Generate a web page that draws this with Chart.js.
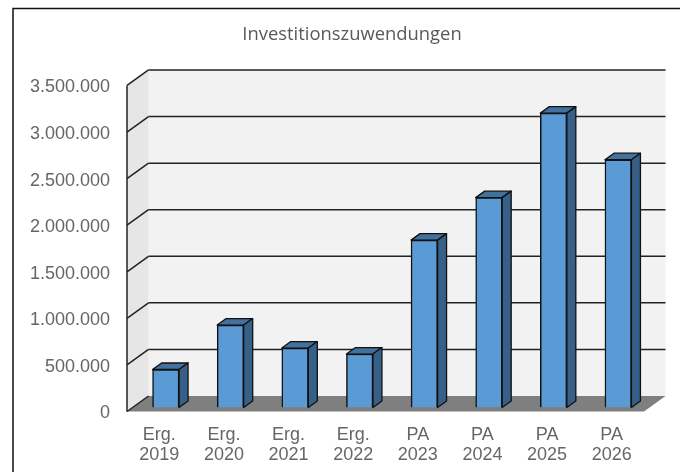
<!DOCTYPE html>
<html><head><meta charset="utf-8">
<style>html,body{margin:0;padding:0;background:#fff}#w{position:absolute;left:0;top:0;width:680px;height:472px}</style>
<script src="https://cdn.jsdelivr.net/npm/chart.js@4"></script></head>
<body><div id="w"><canvas id="c" width="680" height="472"></canvas></div>
<script>
const categories=[["Erg.","2019"],["Erg.","2020"],["Erg.","2021"],["Erg.","2022"],["PA","2023"],["PA","2024"],["PA","2025"],["PA","2026"]];
const values=[408000,885000,638000,574000,1797000,2253000,3160000,2660000];
const titleText="Investitionszuwendungen";
const DX=21.5,DY=-15.5,BX=6.5,BY=-4,SX=9,SY=-6.5;
function poly(ctx,pts,fill,stroke,lw){ctx.beginPath();pts.forEach((p,i)=>i?ctx.lineTo(p[0],p[1]):ctx.moveTo(p[0],p[1]));ctx.closePath();
 if(fill){ctx.fillStyle=fill;ctx.fill();} if(stroke){ctx.strokeStyle=stroke;ctx.lineWidth=lw;ctx.lineJoin='round';ctx.stroke();}}
function line(ctx,a,b,c,w){ctx.beginPath();ctx.moveTo(a[0],a[1]);ctx.lineTo(b[0],b[1]);ctx.strokeStyle=c;ctx.lineWidth=w;ctx.stroke();}
const frame={id:'frame',afterLayout(ch){ch.titleBlock.left=60;},beforeDraw(ch){const c=ch.ctx;c.save();c.fillStyle='#fff';c.fillRect(0,0,680,472);
 c.strokeStyle='#111';c.lineWidth=1.5;c.beginPath();c.moveTo(13,472);c.lineTo(13,8.5);c.lineTo(680,8.5);c.stroke();c.restore();}};
const walls={id:'walls',beforeDatasetsDraw(ch){const c=ch.ctx,x=ch.scales.x,y=ch.scales.y,l=x.left,r=x.right,t=y.top,b=y.bottom;c.save();
 poly(c,[[l+DX,t+DY],[r+DX,t+DY],[r+DX,b+DY],[l+DX,b+DY]],'#f2f2f2');
 poly(c,[[l,t],[l+DX,t+DY],[l+DX,b+DY],[l,b]],'#e6e6e6');
 poly(c,[[l,b],[l+DX,b+DY],[r+DX,b+DY],[r,b]],'#7f7f7f');
 y.ticks.forEach(tk=>{const py=y.getPixelForValue(tk.value);
  if(tk.value>0){line(c,[l+DX,py+DY],[r+DX,py+DY],'#222',1.5);}
  line(c,[l,py],[l+DX,py+DY],'#222',1.5);});
 line(c,[l,t],[l,b],'#222',1.5);
 const m=ch.getDatasetMeta(0);
 m.data.forEach(e=>{const h=e.width/2,x0=e.x-h+BX,x1=e.x+h+BX,yt=e.y+BY,yb=e.base+BY;
  poly(c,[[x0,yt],[x0+SX,yt+SY],[x1+SX,yt+SY],[x1,yt]],'#41719c','#111',1.3);
  poly(c,[[x1,yt],[x1+SX,yt+SY],[x1+SX,yb+SY],[x1,yb]],'#376088','#111',1.3);});
 c.restore();},
 beforeDatasetDraw(ch){ch.ctx.save();ch.ctx.translate(BX,BY);},
 afterDatasetDraw(ch){ch.ctx.restore();}};
new Chart(document.getElementById('c'),{type:'bar',
 data:{labels:categories,datasets:[{data:values,backgroundColor:'#5b9bd5',borderColor:'#111',borderWidth:1.5,barThickness:26.5}]},
 plugins:[frame,walls],
 options:{responsive:false,animation:false,
  layout:{padding:{left:0,right:36,top:0,bottom:0}},
  plugins:{legend:{display:false},tooltip:{enabled:false},
   title:{display:true,text:titleText,color:'#595959',font:{family:'"Open Sans"',size:18.4,weight:'normal',lineHeight:1.2},padding:{top:23.5,bottom:39.9}}},
  scales:{
   x:{grid:{display:false},border:{display:false},afterFit(s){s.height=60.5;},ticks:{color:'#666',font:{family:'"Liberation Sans"',size:18,lineHeight:1.11},maxRotation:0,autoSkip:false,padding:6}},
   y:{min:0,max:3500000,grid:{display:false},border:{display:false},
    afterFit(s){s.width=127;},
    ticks:{stepSize:500000,color:'#666',font:{family:'"Liberation Sans"',size:18},padding:9,labelOffset:2,callback:v=>v===0?'0':String(v).replace(/\B(?=(\d{3})+$)/g,'.')}}
  }
 }});
</script></body></html>
